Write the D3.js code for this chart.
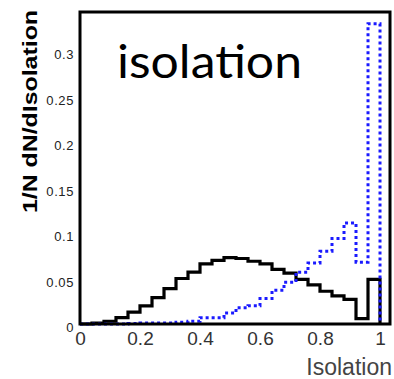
<!DOCTYPE html>
<html lang="en">
<head>
<meta charset="utf-8">
<title>isolation</title>
<script src="https://cdn.jsdelivr.net/npm/d3@7"></script>
<style>
  body { margin: 0; background: #fff; }
  svg { display: block; }
</style>
</head>
<body>
<script>
// bin edges: 25 bins of 0.04 from 0 to 1
var binEdges = d3.range(0, 25).map(function(i) { return +(i * 0.04).toFixed(2) })
// black solid histogram
var solidVals = [0, 0.001, 0.003, 0.007, 0.013, 0.020, 0.029, 0.039, 0.050, 0.057,
                 0.066, 0.070, 0.073, 0.072, 0.069, 0.066, 0.060, 0.056, 0.049, 0.043,
                 0.036, 0.031, 0.027, 0.006, 0.049]
// blue dotted histogram
var dottedVals = [0, 0, 0, 0, 0.0005, 0.001, 0.001, 0.001, 0.002, 0.003,
                  0.007, 0.007, 0.012, 0.018, 0.020, 0.028, 0.037, 0.046, 0.057, 0.067,
                  0.080, 0.094, 0.111, 0.068, 0.330]
var xTicks = [0, 0.2, 0.4, 0.6, 0.8, 1]
var xTickLabels = ["0", "0.2", "0.4", "0.6", "0.8", "1"]
var yTicks = [0, 0.05, 0.1, 0.15, 0.2, 0.25, 0.3]
var yTickLabels = ["0", "0.05", "0.1", "0.15", "0.2", "0.25", "0.3"]

var width = 394, height = 379
var svg = d3.select("body").append("svg").attr("width", width).attr("height", height)

var x = d3.scaleLinear().domain([0, 1.0333]).range([80, 390])
var y = d3.scaleLinear().domain([0, 0.343]).range([324, 12])

// y axis
var yAxis = svg.append("g")
  .attr("transform", "translate(80,0)")
  .call(d3.axisLeft(y).tickValues(yTicks).tickSize(0).tickPadding(6)
    .tickFormat(function(d, i) { return yTickLabels[i] }))
yAxis.select(".domain").remove()
yAxis.selectAll("text")
  .attr("dy", "0.6em")
  .style("font-family", "Liberation Sans, Arial, sans-serif")
  .style("font-size", "13px")
  .style("letter-spacing", "0.6px")
  .style("fill", "#222")

// x axis
var xAxis = svg.append("g")
  .attr("transform", "translate(0,324)")
  .call(d3.axisBottom(x).tickValues(xTicks).tickSize(0).tickPadding(8)
    .tickFormat(function(d, i) { return xTickLabels[i] }))
xAxis.select(".domain").remove()
xAxis.selectAll("text")
  .style("font-family", "Liberation Sans, Arial, sans-serif")
  .style("font-size", "19px")
  .style("fill", "#333")

// step paths
function stepPoints(vals) {
  var pts = [[0, 0]]
  vals.forEach(function(v, i) { pts.push([binEdges[i], v]) })
  pts.push([1, 0])
  return pts
}
var line = d3.line()
  .x(function(d) { return x(d[0]) })
  .y(function(d) { return y(d[1]) })
  .curve(d3.curveStepAfter)

svg.append("path")
  .attr("d", line(stepPoints(solidVals)))
  .attr("fill", "none")
  .attr("stroke", "#000")
  .attr("stroke-width", 3.2)

svg.append("path")
  .attr("d", line(stepPoints(dottedVals)))
  .attr("fill", "none")
  .attr("stroke", "#1a1aff")
  .attr("stroke-width", 3)
  .attr("stroke-dasharray", "3,3")

// frame
svg.append("rect")
  .attr("x", x(0)).attr("y", y(0.343))
  .attr("width", x(1.0333) - x(0)).attr("height", y(0) - y(0.343))
  .attr("fill", "none")
  .attr("stroke", "#000")
  .attr("stroke-width", 3)

// titles
svg.append("text")
  .attr("transform", "translate(37,111.5) rotate(-90)")
  .attr("text-anchor", "middle")
  .attr("textLength", 203)
  .attr("lengthAdjust", "spacingAndGlyphs")
  .style("font-family", "Liberation Sans, Arial, sans-serif")
  .style("font-weight", "bold")
  .style("font-size", "20px")
  .text("1/N dN/dIsolation")

svg.append("text")
  .attr("x", 392).attr("y", 375)
  .attr("text-anchor", "end")
  .style("font-family", "Liberation Sans, Arial, sans-serif")
  .style("font-size", "23px")
  .style("fill", "#444")
  .text("Isolation")

svg.append("text")
  .attr("x", 117).attr("y", 78)
  .attr("textLength", 185)
  .attr("lengthAdjust", "spacingAndGlyphs")
  .style("font-family", "Lato, 'Noto Sans', sans-serif")
  .style("font-weight", 400)
  .style("font-size", "46px")
  .text("isolation")
</script>
</body>
</html>
